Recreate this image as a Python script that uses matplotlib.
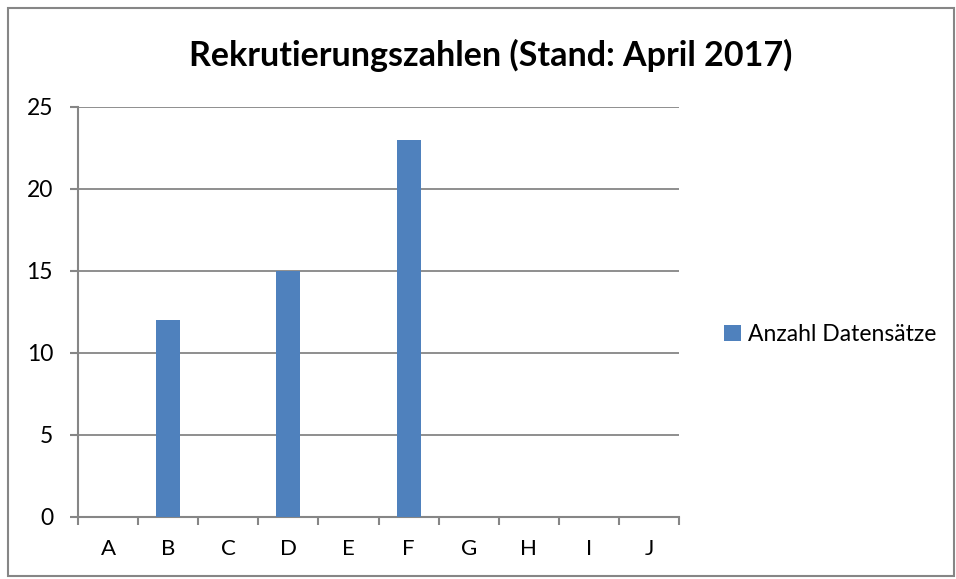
import matplotlib.pyplot as plt
import numpy as np
from matplotlib.patches import Rectangle

categories = ['A', 'B', 'C', 'D', 'E', 'F', 'G', 'H', 'I', 'J']
values = [0, 12, 0, 15, 0, 23, 0, 0, 0, 0]
series_name = 'Anzahl Datensätze'
title = 'Rekrutierungszahlen (Stand: April 2017)'

plt.rcParams['font.family'] = ['Lato', 'DejaVu Sans']
grey = '#868686'
blue = '#4F81BD'

fig = plt.figure(figsize=(9.56, 5.79), dpi=100)
ax = fig.add_axes([0.0816, 0.1071, 0.6287, 0.7081])

x = np.arange(len(categories))
ax.bar(x, values, width=0.4, color=blue, zorder=3, label=series_name)

ax.set_xlim(-0.5, len(categories) - 0.5)
ax.set_ylim(0, 25)
ax.set_yticks(range(0, 26, 5))
ax.set_xticks(x)
ax.set_xticklabels(categories)
ax.set_xticks(np.arange(-0.5, len(categories)), minor=True)
ax.tick_params(axis='x', which='major', length=0, pad=16, labelsize=16)
ax.tick_params(axis='x', which='minor', length=6, width=1.5, color=grey, direction='out')
ax.tick_params(axis='y', length=6, width=1.5, color=grey, direction='out', pad=12, labelsize=16.5)

ax.yaxis.grid(True, color=grey, linewidth=1.3, zorder=0)
for s in ['top', 'right']:
    ax.spines[s].set_visible(False)
for s in ['left', 'bottom']:
    ax.spines[s].set_color(grey)
    ax.spines[s].set_linewidth(1.5)

fig.text(491 / 956, 1 - 55 / 579, title, ha='center', va='center',
         fontsize=24.5, fontweight='bold')

ax.legend(loc='center left', bbox_to_anchor=(1.04, 0.445), frameon=False,
          fontsize=16.5, handlelength=0.75, handleheight=0.75, handletextpad=0.3)

fig.patches.append(Rectangle((8 / 956, 3 / 579), 946 / 956, 568 / 579,
                             transform=fig.transFigure, fill=False,
                             edgecolor=grey, linewidth=1.5))

fig.savefig('out.png', dpi=100)
